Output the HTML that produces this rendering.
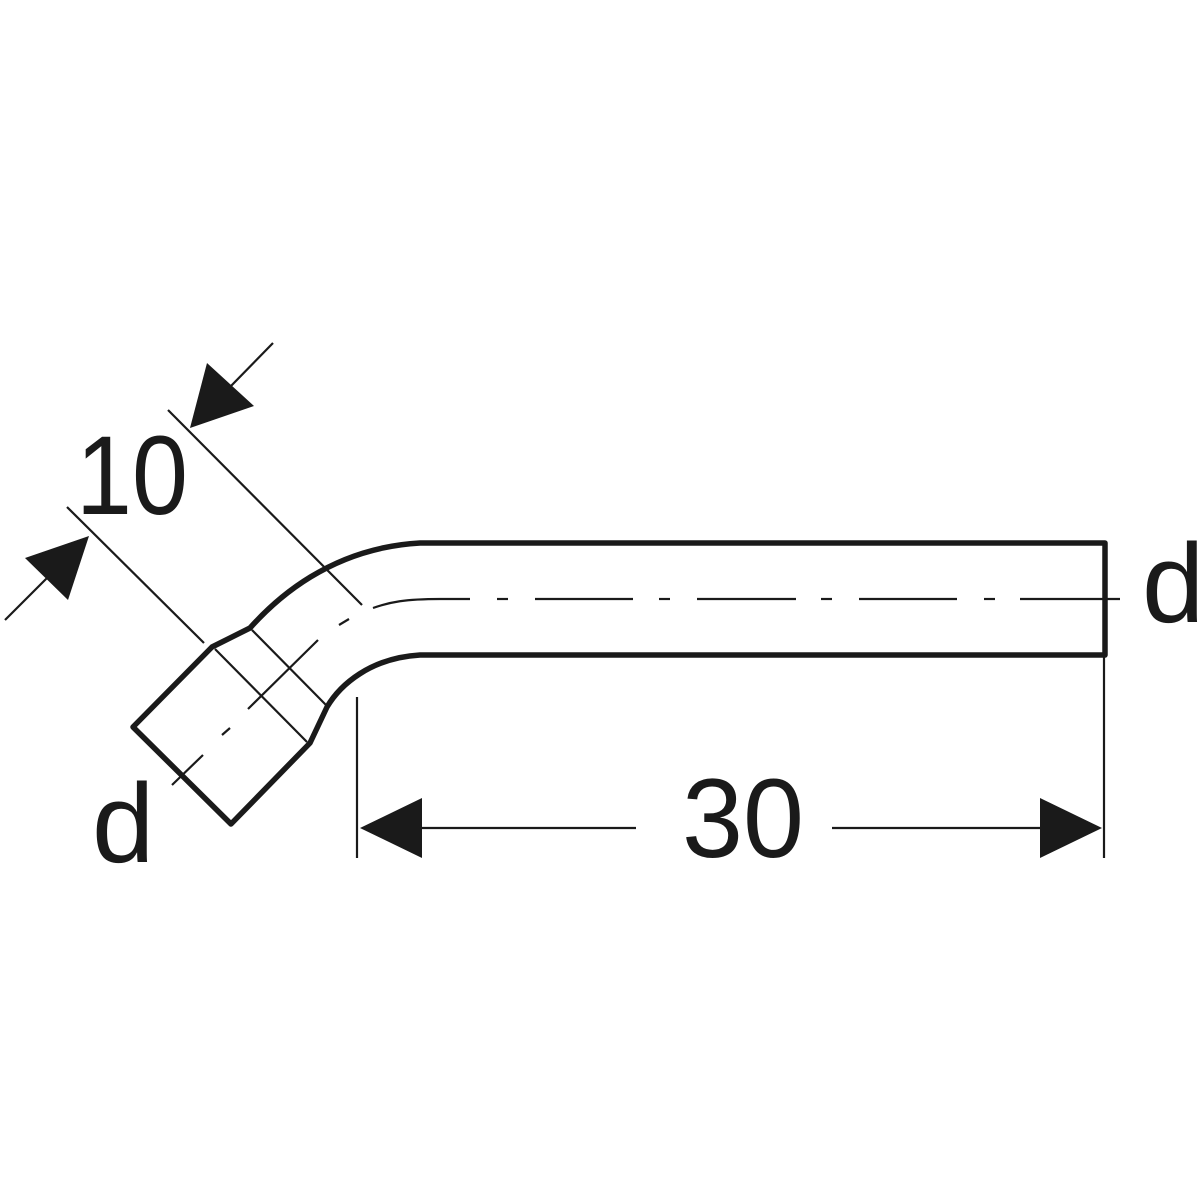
<!DOCTYPE html>
<html><head><meta charset="utf-8"><style>
html,body{margin:0;padding:0;background:#fff;}
svg{display:block;}
text{font-family:"Liberation Sans",sans-serif;fill:#1a1a1a;}
</style></head><body>
<svg width="1200" height="1200" viewBox="0 0 1200 1200" xmlns="http://www.w3.org/2000/svg">
<rect width="1200" height="1200" fill="#fff"/>
<g stroke="#1a1a1a" fill="none" stroke-linejoin="round" stroke-linecap="butt">
  <!-- pipe outline -->
  <path d="M133,727 L212,647 L250,628 C275,600 330,548 420,543 L1105,543 L1105,655 L420,655 C370,658 340,685 327,707 L310,743 L231,824 Z" stroke-width="5.5"/>
  <!-- thin lines -->
  <g stroke-width="2.2">
    <line x1="215" y1="649" x2="307" y2="742"/>
    <line x1="252" y1="630" x2="326" y2="705"/>
    <line x1="318" y1="640" x2="248" y2="709"/>
    <line x1="203" y1="755" x2="172" y2="785"/>
    <line x1="339" y1="625" x2="349" y2="619"/>
    <line x1="222" y1="735" x2="230" y2="728"/>
    <!-- extension lines 10 -->
    <line x1="168" y1="410" x2="362" y2="605"/>
    <line x1="67" y1="507" x2="204" y2="643"/>
    <line x1="273" y1="343" x2="230" y2="387"/>
    <line x1="5" y1="620" x2="50" y2="575"/>
    <!-- centerline -->
    <path d="M373,608 C390,602 405,599 440,599 L470,599"/>
    <line x1="497" y1="599" x2="508" y2="599"/>
    <line x1="535" y1="599" x2="633" y2="599"/>
    <line x1="659" y1="599" x2="670" y2="599"/>
    <line x1="697" y1="599" x2="796" y2="599"/>
    <line x1="821" y1="599" x2="832" y2="599"/>
    <line x1="859" y1="599" x2="957" y2="599"/>
    <line x1="984" y1="599" x2="995" y2="599"/>
    <line x1="1020" y1="599" x2="1120" y2="599"/>
    <!-- 30 dim -->
    <line x1="357" y1="697" x2="357" y2="858"/>
    <line x1="1104" y1="655" x2="1104" y2="858"/>
    <line x1="420" y1="828" x2="636" y2="828"/>
    <line x1="832" y1="828" x2="1040" y2="828"/>
  </g>
</g>
<g fill="#1a1a1a">
  <polygon points="360,828 422,798 422,858"/>
  <polygon points="1102,828 1040,798 1040,858"/>
  <polygon points="190,428 207,363 254,406"/>
  <polygon points="89,536 25,558 68,600"/>
</g>
<text x="76" y="514" font-size="112" textLength="112" lengthAdjust="spacingAndGlyphs">10</text>
<text x="682" y="857" font-size="112" textLength="122" lengthAdjust="spacingAndGlyphs">30</text>
<text x="1142" y="622" font-size="112">d</text>
<text x="92" y="862" font-size="112">d</text>
</svg>
</body></html>
